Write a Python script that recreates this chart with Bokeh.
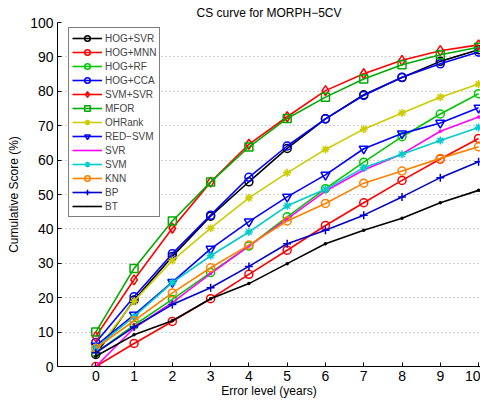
from bokeh.plotting import figure
from bokeh.models import Range1d, FixedTicker
from bokeh.embed import file_html
from bokeh.resources import INLINE

error_levels = [0, 1, 2, 3, 4, 5, 6, 7, 8, 9, 10]

hog_svr = [3.5, 19.3, 32.0, 43.7, 53.7, 63.4, 72.0, 79.0, 84.0, 88.7, 92.1]
hog_mnn = [0.0, 6.7, 13.1, 19.7, 26.8, 33.8, 41.0, 47.6, 54.1, 60.3, 66.3]
hog_rf = [4.0, 12.0, 19.5, 27.3, 35.0, 43.5, 51.7, 59.4, 66.8, 73.4, 79.3]
hog_cca = [7.0, 20.3, 32.8, 44.0, 55.0, 64.1, 72.0, 78.8, 84.1, 88.0, 91.4]
svm_svr = [8.7, 25.2, 40.2, 53.6, 64.6, 72.6, 80.2, 85.1, 89.0, 91.8, 93.5]
mfor = [10.0, 28.5, 42.3, 53.6, 63.8, 72.1, 78.3, 83.6, 87.7, 90.6, 92.8]
ohrank = [4.5, 19.0, 30.8, 40.2, 49.0, 56.3, 63.1, 69.0, 73.7, 78.3, 82.1]
red_svm = [6.0, 15.0, 24.5, 34.2, 42.1, 49.3, 55.7, 63.3, 67.7, 70.8, 75.2]
svr = [0.0, 11.2, 18.6, 27.0, 35.0, 42.9, 51.0, 57.1, 61.8, 68.4, 72.5]
svm = [5.5, 14.5, 24.4, 32.2, 39.1, 46.7, 51.5, 57.8, 61.7, 65.7, 69.5]
knn = [5.3, 13.3, 21.4, 28.7, 35.3, 42.3, 47.4, 53.3, 56.8, 60.5, 63.9]
bp = [4.0, 11.5, 18.0, 22.9, 29.1, 35.7, 39.6, 44.0, 49.3, 54.9, 59.5]
bt = [3.0, 9.2, 13.3, 19.7, 24.1, 29.9, 35.7, 39.6, 43.1, 47.6, 51.2]

series = [
    ("HOG+SVR", hog_svr, "#000000", "circle"),
    ("HOG+MNN", hog_mnn, "#ff0000", "circle"),
    ("HOG+RF", hog_rf, "#00c800", "circle"),
    ("HOG+CCA", hog_cca, "#0000ff", "circle"),
    ("SVM+SVR", svm_svr, "#ff0000", "diamond"),
    ("MFOR", mfor, "#00aa00", "square"),
    ("OHRank", ohrank, "#cccc00", "asterisk"),
    ("RED\u2212SVM", red_svm, "#0000ff", "inverted_triangle"),
    ("SVR", svr, "#ff00ff", "dot"),
    ("SVM", svm, "#00cccc", "asterisk"),
    ("KNN", knn, "#ff8000", "circle"),
    ("BP", bp, "#0000cc", "cross"),
    ("BT", bt, "#000000", "dot"),
]

x_ticks = [0, 1, 2, 3, 4, 5, 6, 7, 8, 9, 10]
y_ticks = [0, 10, 20, 30, 40, 50, 60, 70, 80, 90, 100]

FONT = "Liberation Sans"

p = figure(width=480, height=405, output_backend="svg", toolbar_location=None,
           x_range=Range1d(-1, 10.05), y_range=Range1d(0, 100),
           min_border_left=57, min_border_right=0, min_border_top=21,
           min_border_bottom=39)
p.outline_line_color = None
p.background_fill_color = "white"
p.border_fill_color = "white"

p.title.text = "CS curve for MORPH\u22125CV"
p.title.align = "center"
p.title.text_font = FONT
p.title.text_font_size = "12px"
p.title.text_font_style = "normal"
p.title.text_color = "#000000"
p.title.standoff = 6

sizes = {"circle": 8, "diamond": 10, "square": 8, "asterisk": 8,
         "inverted_triangle": 9, "dot": 14, "cross": 8}

for name, vals, color, marker in series:
    p.line(error_levels, vals, line_color=color, line_width=1.6, legend_label=name)
    p.scatter(error_levels, vals, marker=marker, size=sizes[marker],
              line_color=color, fill_color=None if marker != "dot" else color,
              line_width=1.5, legend_label=name)

p.xaxis.ticker = FixedTicker(ticks=x_ticks)
p.yaxis.ticker = FixedTicker(ticks=y_ticks)
for ax in (p.xaxis, p.yaxis):
    ax.major_tick_in = 4
    ax.major_tick_out = 0
    ax.minor_tick_in = 0
    ax.minor_tick_out = 0
    ax.axis_line_color = "#000000"
    ax.major_tick_line_color = "#000000"
    ax.major_label_text_font = FONT
    ax.major_label_text_font_size = "14px"
    ax.major_label_text_color = "#000000"
    ax.axis_label_text_font = FONT
    ax.axis_label_text_font_size = "12px"
    ax.axis_label_text_font_style = "normal"
    ax.axis_label_text_color = "#000000"
    ax.major_label_standoff = 4

p.xaxis.axis_label = "Error level (years)"
p.yaxis.axis_label = "Cumulative Score (%)"
p.xaxis.axis_label_standoff = 0
p.yaxis.axis_label_standoff = 6

p.xgrid.grid_line_color = None
p.ygrid.grid_line_color = "#a0a0a0"
p.ygrid.grid_line_dash = "1 3"
p.ygrid.grid_line_width = 1

leg = p.legend[0]
leg.location = (11, 149)
leg.label_text_font = FONT
leg.label_text_font_size = "10px"
leg.label_height = 14
leg.glyph_height = 14
leg.glyph_width = 30
leg.spacing = 0
leg.padding = 3
leg.margin = 0
leg.label_standoff = 3
leg.border_line_color = "#000000"
leg.border_line_width = 1.2
leg.background_fill_alpha = 1

open("out.html", "w").write(file_html(p, INLINE))
